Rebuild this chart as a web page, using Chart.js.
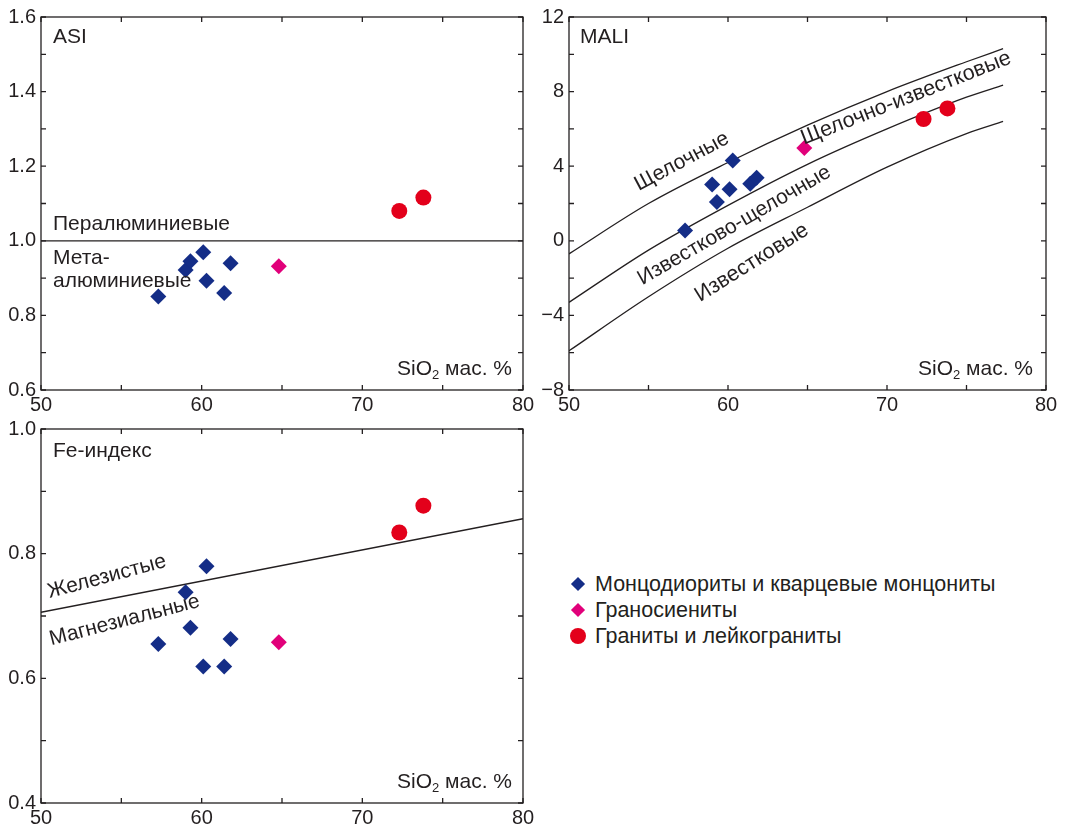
<!DOCTYPE html>
<html>
<head>
<meta charset="utf-8">
<script src="https://cdn.jsdelivr.net/npm/chart.js@4.4.0/dist/chart.umd.min.js"></script>
<style>
  body { margin: 0; background: #fff; width: 1065px; height: 827px; overflow: hidden; position: relative;
         font-family: "Liberation Sans", Arial, sans-serif; color: #231f20; }
  canvas { position: absolute; }
  #legend { position: absolute; left: 568px; top: 571px; font-size: 21.5px; }
  #legend .row { position: relative; height: 26px; line-height: 26px; padding-left: 27px; white-space: nowrap; }
  #legend .dia { position: absolute; left: 5px; top: 8px; width: 10px; height: 10px; transform: rotate(45deg); }
  #legend .dot { position: absolute; left: 2px; top: 5px; width: 16px; height: 16px; border-radius: 50%; }
</style>
</head>
<body>
<canvas id="asi" width="540" height="412" style="left:0;top:0"></canvas>
<canvas id="mali" width="535" height="412" style="left:530px;top:0"></canvas>
<canvas id="fe" width="540" height="415" style="left:0;top:412px"></canvas>
<div id="legend">
  <div class="row"><span class="dia" style="background:#142d87"></span>Монцодиориты и кварцевые монцониты</div>
  <div class="row"><span class="dia" style="background:#e1007a"></span>Граносиениты</div>
  <div class="row"><span class="dot" style="background:#e3001b"></span>Граниты и лейкограниты</div>
</div>
<script>
// SiO2 of the samples (same for all three panels)
const siO2Mz = [57.3, 59.0, 59.3, 60.1, 60.3, 61.4, 61.8];
const siO2Gs = [64.8];
const siO2Gr = [72.3, 73.8];

// ASI
const asiMz = [0.851, 0.922, 0.945, 0.969, 0.893, 0.860, 0.940];
const asiGs = [0.932];
const asiGr = [1.080, 1.116];

// MALI
const maliMz = [0.55, 3.02, 2.08, 2.77, 4.31, 3.06, 3.38];
const maliGs = [4.97];
const maliGr = [6.53, 7.10];

// Fe-index
const feMz = [0.655, 0.738, 0.681, 0.619, 0.780, 0.619, 0.663];
const feGs = [0.658];
const feGr = [0.834, 0.877];

// boundaries
const asiBoundX = [50, 80];
const asiBoundY = [1.0, 1.0];
const feBoundX = [50, 80];
const feBoundY = [0.706, 0.856];
const maliCurveX = [50, 55, 60, 65, 70, 75, 77.3];
const alkalicY = [-0.7, 2.0, 4.2, 6.2, 8.0, 9.6, 10.3];
const alkaliCalcicY = [-3.3, -0.5, 1.9, 4.1, 6.0, 7.7, 8.35];
const calcAlkalicY = [-5.9, -3.0, -0.4, 1.8, 3.95, 5.75, 6.4];

const INK = '#231f20';
const NAVY = '#142d87';
const PINK = '#e1007a';
const RED = '#e3001b';
const FONT = '"Liberation Sans", Arial, sans-serif';

const pts = (xs, ys) => xs.map((x, i) => ({ x: x, y: ys[i] }));

function sampleSets(mz, gs, gr) {
  return [
    { data: pts(siO2Mz, mz), pointStyle: 'rectRot', pointRadius: 8, backgroundColor: NAVY, borderWidth: 0, order: 1 },
    { data: pts(siO2Gs, gs), pointStyle: 'rectRot', pointRadius: 8, backgroundColor: PINK, borderWidth: 0, order: 1 },
    { data: pts(siO2Gr, gr), pointStyle: 'circle', pointRadius: 8, backgroundColor: RED, borderWidth: 0, order: 1 }
  ];
}

function boundary(xs, ys) {
  return { data: pts(xs, ys), showLine: true, borderColor: INK, borderWidth: 1.3, pointRadius: 0,
           cubicInterpolationMode: 'monotone', order: 2 };
}

// frame and inward ticks on all four sides
const frameTicks = {
  id: 'frameTicks',
  beforeDatasetsDraw(chart) {
    const { ctx, chartArea: a, scales: { x, y } } = chart;
    ctx.save();
    ctx.strokeStyle = INK;
    ctx.lineWidth = 1.3;
    ctx.strokeRect(a.left, a.top, a.right - a.left, a.bottom - a.top);
    ctx.beginPath();
    x.ticks.forEach(t => {
      const px = x.getPixelForValue(t.value);
      ctx.moveTo(px, a.bottom); ctx.lineTo(px, a.bottom - 5);
      ctx.moveTo(px, a.top); ctx.lineTo(px, a.top + 5);
    });
    y.ticks.forEach(t => {
      const py = y.getPixelForValue(t.value);
      ctx.moveTo(a.left, py); ctx.lineTo(a.left + 5, py);
      ctx.moveTo(a.right, py); ctx.lineTo(a.right - 5, py);
    });
    ctx.stroke();
    ctx.restore();
  }
};

function drawSiO2(ctx, right, base) {
  const big = '21px ' + FONT, small = '13px ' + FONT;
  ctx.font = big;
  const w1 = ctx.measureText('SiO').width;
  const w3 = ctx.measureText(' мас. %').width;
  ctx.font = small;
  const w2 = ctx.measureText('2').width;
  let x = right - w1 - w2 - w3;
  ctx.textAlign = 'left';
  ctx.textBaseline = 'alphabetic';
  ctx.font = big; ctx.fillText('SiO', x, base); x += w1;
  ctx.font = small; ctx.fillText('2', x, base + 4); x += w2;
  ctx.font = big; ctx.fillText(' мас. %', x, base);
}

// notes: {t, dx, dy} pixel offset from chart corner, or {t, x, y, rot} in data units
function notesPlugin(notes, siRightGap) {
  return {
    id: 'notes',
    afterDatasetsDraw(chart) {
      const { ctx, chartArea: a, scales } = chart;
      ctx.save();
      ctx.fillStyle = INK;
      notes.forEach(n => {
        ctx.font = (n.size || 21) + 'px ' + FONT;
        if (n.rot !== undefined) {
          ctx.save();
          ctx.translate(scales.x.getPixelForValue(n.x), scales.y.getPixelForValue(n.y));
          ctx.rotate(n.rot * Math.PI / 180);
          ctx.textAlign = 'center';
          ctx.textBaseline = 'middle';
          ctx.fillText(n.t, 0, 0);
          ctx.restore();
        } else {
          ctx.textAlign = 'left';
          ctx.textBaseline = 'alphabetic';
          const py = n.yv !== undefined ? scales.y.getPixelForValue(n.yv) + n.dy : a.top + n.dy;
          ctx.fillText(n.t, a.left + n.dx, py);
        }
      });
      drawSiO2(ctx, a.right - siRightGap, a.bottom - 15);
      ctx.restore();
    }
  };
}

function makePanel(id, o) {
  return new Chart(document.getElementById(id), {
    type: 'scatter',
    data: { datasets: o.datasets },
    options: {
      responsive: false,
      animation: false,
      events: [],
      layout: { padding: { top: 15, right: o.padRight, left: 0, bottom: 0 } },
      plugins: { legend: { display: false }, tooltip: { enabled: false } },
      scales: {
        x: {
          type: 'linear', min: 50, max: 80,
          grid: { display: false, drawTicks: false }, border: { display: false },
          ticks: { stepSize: 5, autoSkip: false, maxRotation: 0, padding: 3, color: INK,
                   font: { size: 20, family: FONT },
                   callback: v => (Math.round(v) % 10 === 0 ? String(Math.round(v)) : '') },
          afterFit: s => { s.height = o.xHeight; }
        },
        y: {
          type: 'linear', min: o.yMin, max: o.yMax,
          grid: { display: false, drawTicks: false }, border: { display: false },
          ticks: { stepSize: o.yStep, autoSkip: false, padding: 5, color: INK,
                   font: { size: 20, family: FONT }, callback: o.yLabel },
          afterFit: s => { s.width = o.yWidth; }
        }
      }
    },
    plugins: [frameTicks, notesPlugin(o.notes, o.siGap)]
  });
}

const tenths = v => { const k = Math.round(v * 10); return k % 2 === 0 ? (k / 10).toFixed(1) : ''; };

makePanel('asi', {
  datasets: [boundary(asiBoundX, asiBoundY)].concat(sampleSets(asiMz, asiGs, asiGr)),
  yMin: 0.6, yMax: 1.6, yStep: 0.1, yLabel: tenths,
  yWidth: 41, xHeight: 22, padRight: 17, siGap: 11,
  notes: [
    { t: 'ASI', dx: 12, dy: 26 },
    { t: 'Пералюминиевые', dx: 12, yv: 1.0, dy: -11 },
    { t: 'Мета-', dx: 12, yv: 1.0, dy: 23 },
    { t: 'алюминиевые', dx: 12, yv: 1.0, dy: 46 }
  ]
});

makePanel('mali', {
  datasets: [boundary(maliCurveX, alkalicY), boundary(maliCurveX, alkaliCalcicY), boundary(maliCurveX, calcAlkalicY)]
    .concat(sampleSets(maliMz, maliGs, maliGr)),
  yMin: -8, yMax: 12, yStep: 2,
  yLabel: v => { const k = Math.round(v); return k % 4 === 0 ? (k < 0 ? '\u2212' + Math.abs(k) : String(k)) : ''; },
  yWidth: 39, xHeight: 22, padRight: 19, siGap: 13,
  notes: [
    { t: 'MALI', dx: 11, dy: 26 },
    { t: 'Щелочные', x: 57.1, y: 4.25, rot: -28 },
    { t: 'Щелочно-известковые', x: 71.2, y: 7.64, rot: -21.5, size: 21.5 },
    { t: 'Известково-щелочные', x: 60.4, y: 0.83, rot: -30 },
    { t: 'Известковые', x: 61.5, y: -1.18, rot: -32, size: 21.5 }
  ]
});

makePanel('fe', {
  datasets: [boundary(feBoundX, feBoundY)].concat(sampleSets(feMz, feGs, feGr)),
  yMin: 0.4, yMax: 1.0, yStep: 0.1, yLabel: tenths,
  yWidth: 41, xHeight: 24, padRight: 17, siGap: 11,
  notes: [
    { t: 'Fe-индекс', dx: 12, dy: 28 },
    { t: 'Железистые', x: 54.1, y: 0.763, rot: -15 },
    { t: 'Магнезиальные', x: 55.2, y: 0.693, rot: -14.5 }
  ]
});
</script>
</body>
</html>
